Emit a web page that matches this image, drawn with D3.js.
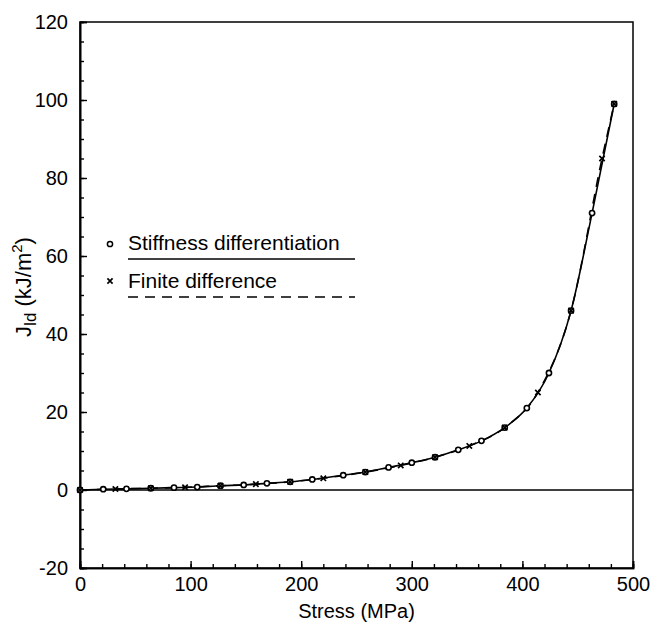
<!DOCTYPE html>
<meta charset="utf-8">
<style>
    body { margin: 0; background: #fff; }
    text { font-family: "Liberation Sans", Arial, sans-serif; fill: #000; }
    .tick text { font-size: 20px; }
    .domain { stroke: #000; stroke-width: 1.6; }
    .tick line { stroke: #000; stroke-width: 1.4; }
</style>
<body>
<svg id="chart" width="651" height="624"></svg>
<script src="https://d3js.org/d3.v7.min.js"></script>
<script>
    // stiffness differentiation points (stress MPa, J kJ/m2)
    var stiffStress = [0, 21, 42, 64, 85, 106, 127, 148, 169, 190, 210, 238, 258, 279, 300, 321, 342, 363, 384, 404, 424, 444, 463, 483];
    var stiffJ      = [0, 0.2, 0.3, 0.45, 0.6, 0.75, 1.1, 1.3, 1.7, 2.1, 2.7, 3.8, 4.6, 5.8, 7.0, 8.4, 10.3, 12.6, 16, 21, 30, 46, 71, 99];
    // finite difference points
    var fdStress = [0, 32, 64, 95, 127, 159, 190, 220, 258, 290, 321, 352, 384, 414, 444, 472, 483];
    var fdJ      = [0, 0.25, 0.45, 0.7, 1.1, 1.5, 2.1, 3.0, 4.6, 6.3, 8.4, 11.3, 16, 25, 46, 85, 99];

    var xTicks = [0, 100, 200, 300, 400, 500];
    var yTicks = [-20, 0, 20, 40, 60, 80, 100, 120];

    var legendNames = ["Stiffness differentiation", "Finite difference"];

    var margin = {left: 80, right: 18, top: 22, bottom: 56};
    var width = 651, height = 624;

    var svg = d3.select("#chart");

    var x = d3.scaleLinear().domain([0, 500]).range([margin.left, width - margin.right]);
    var y = d3.scaleLinear().domain([-20, 120]).range([height - margin.bottom, margin.top]);

    var stiff = stiffStress.map(function(s, i) { return [s, stiffJ[i]]; });
    var fd = fdStress.map(function(s, i) { return [s, fdJ[i]]; });

    // frame
    svg.append("rect")
        .attr("x", x(0)).attr("y", y(120))
        .attr("width", x(500) - x(0)).attr("height", y(-20) - y(120))
        .attr("fill", "none").attr("stroke", "#000").attr("stroke-width", 1.5);

    // zero line
    svg.append("line")
        .attr("x1", x(0)).attr("x2", x(500))
        .attr("y1", y(0)).attr("y2", y(0))
        .attr("stroke", "#000").attr("stroke-width", 1.5);

    // minor ticks
    svg.append("g")
        .attr("transform", "translate(0," + y(-20) + ")")
        .call(d3.axisBottom(x).tickValues(d3.range(0, 501, 20)).tickSize(-4).tickFormat(""));
    svg.append("g")
        .attr("transform", "translate(" + x(0) + ",0)")
        .call(d3.axisLeft(y).tickValues(d3.range(-20, 121, 5)).tickSize(-4).tickFormat(""));

    // major ticks (plain hyphen for negatives, like the original)
    var fmt = function(d) { return String(d); };
    svg.append("g")
        .attr("transform", "translate(0," + y(-20) + ")")
        .call(d3.axisBottom(x).tickValues(xTicks).tickSize(-7).tickPadding(9).tickFormat(fmt));
    svg.append("g")
        .attr("transform", "translate(" + x(0) + ",0)")
        .call(d3.axisLeft(y).tickValues(yTicks).tickSize(-7).tickPadding(12).tickFormat(fmt));

    svg.selectAll(".domain").attr("stroke-width", 1.8);

    // curves
    var line = d3.line()
        .x(function(d) { return x(d[0]); })
        .y(function(d) { return y(d[1]); })
        .curve(d3.curveMonotoneX);

    svg.append("path").datum(stiff)
        .attr("d", line).attr("fill", "none")
        .attr("stroke", "#000").attr("stroke-width", 1.6);
    svg.append("path").datum(fd)
        .attr("d", line).attr("fill", "none")
        .attr("stroke", "#000").attr("stroke-width", 1.6)
        .attr("stroke-dasharray", "10,7");

    function cross(g, cx, cy, r) {
        g.append("path")
            .attr("d", "M" + (cx - r) + "," + (cy - r) + "L" + (cx + r) + "," + (cy + r) +
                       "M" + (cx - r) + "," + (cy + r) + "L" + (cx + r) + "," + (cy - r))
            .attr("stroke", "#000").attr("stroke-width", 1.7);
    }

    var marks = svg.append("g");
    stiff.forEach(function(d) {
        marks.append("circle")
            .attr("cx", x(d[0])).attr("cy", y(d[1])).attr("r", 2.6)
            .attr("fill", "#fff").attr("stroke", "#000").attr("stroke-width", 1.6);
    });
    fd.forEach(function(d) {
        cross(marks, x(d[0]), y(d[1]), 2.7);
    });

    // legend
    var lg = svg.append("g");
    lg.append("circle").attr("cx", 110).attr("cy", 244).attr("r", 2.6)
        .attr("fill", "#fff").attr("stroke", "#000").attr("stroke-width", 1.5);
    lg.append("text").attr("x", 128).attr("y", 250).attr("font-size", 21).text(legendNames[0]);
    lg.append("line").attr("x1", 128).attr("x2", 355).attr("y1", 259).attr("y2", 259)
        .attr("stroke", "#000").attr("stroke-width", 1.6);
    cross(lg, 110, 281, 2.6);
    lg.append("text").attr("x", 128).attr("y", 288).attr("font-size", 21).text(legendNames[1]);
    lg.append("line").attr("x1", 128).attr("x2", 355).attr("y1", 297).attr("y2", 297)
        .attr("stroke", "#000").attr("stroke-width", 1.6).attr("stroke-dasharray", "10,7");

    // axis titles
    svg.append("text")
        .attr("x", (x(0) + x(500)) / 2).attr("y", 618)
        .attr("text-anchor", "middle").attr("font-size", 20)
        .text("Stress (MPa)");

    var yt = svg.append("text")
        .attr("transform", "translate(31,287) rotate(-90)")
        .attr("text-anchor", "middle").attr("font-size", 22);
    yt.append("tspan").text("J");
    yt.append("tspan").attr("font-size", 17).attr("dy", 5).text("ld");
    yt.append("tspan").attr("dy", -5).text(" (kJ/m");
    yt.append("tspan").attr("font-size", 15).attr("dy", -9).text("2");
    yt.append("tspan").attr("dy", 9).text(")");
</script>
</body>
